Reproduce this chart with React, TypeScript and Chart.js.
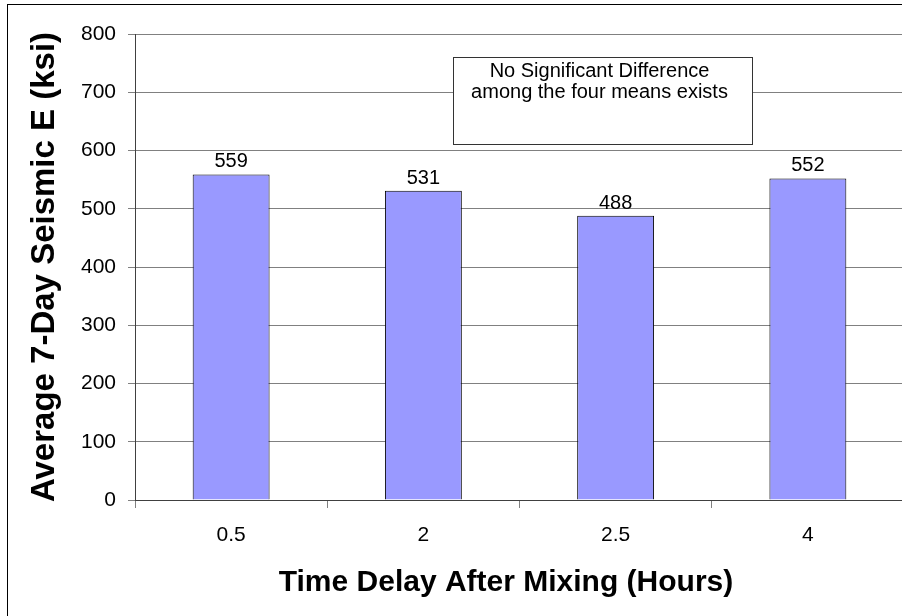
import React, { useEffect, useRef } from "react";
import { Chart, registerables } from "chart.js";

Chart.register(...registerables);

const categories: string[] = ["0.5", "2", "2.5", "4"];
const averageE: number[] = [559, 531, 488, 552];
const yTicks: number[] = [0, 100, 200, 300, 400, 500, 600, 700, 800];
const yAxisTitle = "Average 7-Day Seismic E (ksi)";
const xAxisTitle = "Time Delay After Mixing (Hours)";
const noteLines: string[] = ["No Significant Difference", "among the four means exists"];

const FONT = "'Liberation Sans', Arial, Helvetica, sans-serif";

const valueLabels = {
  id: "valueLabels",
  afterDatasetsDraw(chart: any) {
    const ctx = chart.ctx;
    const meta = chart.getDatasetMeta(0);
    ctx.save();
    ctx.font = `20px ${FONT}`;
    ctx.fillStyle = "#000";
    ctx.textAlign = "center";
    ctx.textBaseline = "alphabetic";
    meta.data.forEach((bar: any, i: number) => {
      ctx.fillText(String(averageE[i]), bar.x, bar.y - 7);
    });
    ctx.restore();
  },
};

const xTitle = {
  id: "xTitle",
  afterDraw(chart: any) {
    const { ctx, chartArea } = chart;
    ctx.save();
    ctx.font = `bold 30px ${FONT}`;
    ctx.fillStyle = "#000";
    ctx.textAlign = "center";
    ctx.textBaseline = "alphabetic";
    ctx.fillText(xAxisTitle, chartArea.left + 371, chartArea.bottom + 91);
    ctx.restore();
  },
};

const noteBox = {
  id: "noteBox",
  afterDraw(chart: any) {
    const { ctx, chartArea } = chart;
    const left = chartArea.left + 318;
    const right = chartArea.left + 617;
    const top = chartArea.top + 23;
    const bottom = chartArea.top + 110;
    ctx.save();
    ctx.fillStyle = "#fff";
    ctx.fillRect(left, top, right - left, bottom - top);
    ctx.strokeStyle = "#333";
    ctx.lineWidth = 1;
    ctx.strokeRect(left + 0.5, top + 0.5, right - left, bottom - top);
    ctx.font = `20px ${FONT}`;
    ctx.fillStyle = "#000";
    ctx.textAlign = "center";
    ctx.textBaseline = "alphabetic";
    const cx = (left + right) / 2 - 3;
    noteLines.forEach((line, i) => {
      ctx.fillText(line, cx, top + 20 + i * 21);
    });
    ctx.restore();
  },
};

export default function App() {
  const canvasRef = useRef<HTMLCanvasElement | null>(null);

  useEffect(() => {
    const canvas = canvasRef.current;
    if (!canvas) return;
    const chart = new Chart(canvas, {
      type: "bar",
      data: {
        labels: categories,
        datasets: [
          {
            data: averageE,
            backgroundColor: "#9999FF",
            borderColor: "#000000",
            borderWidth: 1,
            barPercentage: 0.4,
            categoryPercentage: 1,
          },
        ],
      },
      options: {
        responsive: false,
        animation: false,
        devicePixelRatio: 1,
        layout: { padding: { top: 29, right: 24, left: 0, bottom: 0 } },
        plugins: {
          legend: { display: false },
          tooltip: { enabled: false },
        },
        scales: {
          x: {
            grid: {
              offset: true,
              drawOnChartArea: false,
              drawTicks: true,
              tickLength: 8,
              color: "#808080",
            },
            border: { color: "#404040", width: 1 },
            ticks: {
              color: "#000",
              font: { family: FONT, size: 21 },
              padding: 15,
            },
            title: { display: false },
            afterFit(scale: any) {
              scale.height = 116;
            },
          },
          y: {
            min: 0,
            max: 800,
            afterBuildTicks(scale: any) {
              scale.ticks = yTicks.map((v) => ({ value: v }));
            },
            grid: {
              color: "#808080",
              drawTicks: true,
              tickLength: 7,
            },
            border: { color: "#404040", width: 1 },
            ticks: {
              color: "#000",
              font: { family: FONT, size: 21 },
              padding: 12,
            },
            title: {
              display: true,
              text: yAxisTitle,
              color: "#000",
              font: { family: FONT, size: 33, weight: "bold" },
              padding: { top: 17, bottom: 0 },
            },
            afterFit(scale: any) {
              scale.width = 127;
            },
          },
        },
      },
      plugins: [valueLabels, noteBox, xTitle],
    });
    return () => chart.destroy();
  }, []);

  return (
    <div
      style={{
        position: "fixed",
        left: 0,
        top: 0,
        width: 902,
        height: 616,
        overflow: "hidden",
        background: "#fff",
      }}
    >
      <div
        style={{
          position: "absolute",
          left: 7,
          top: 4,
          width: 960,
          height: 700,
          borderLeft: "1px solid #000",
          borderTop: "1px solid #000",
        }}
      />
      <canvas
        ref={canvasRef}
        width={920}
        height={611}
        style={{ position: "absolute", left: 8, top: 5, width: 920, height: 611 }}
      />
    </div>
  );
}
